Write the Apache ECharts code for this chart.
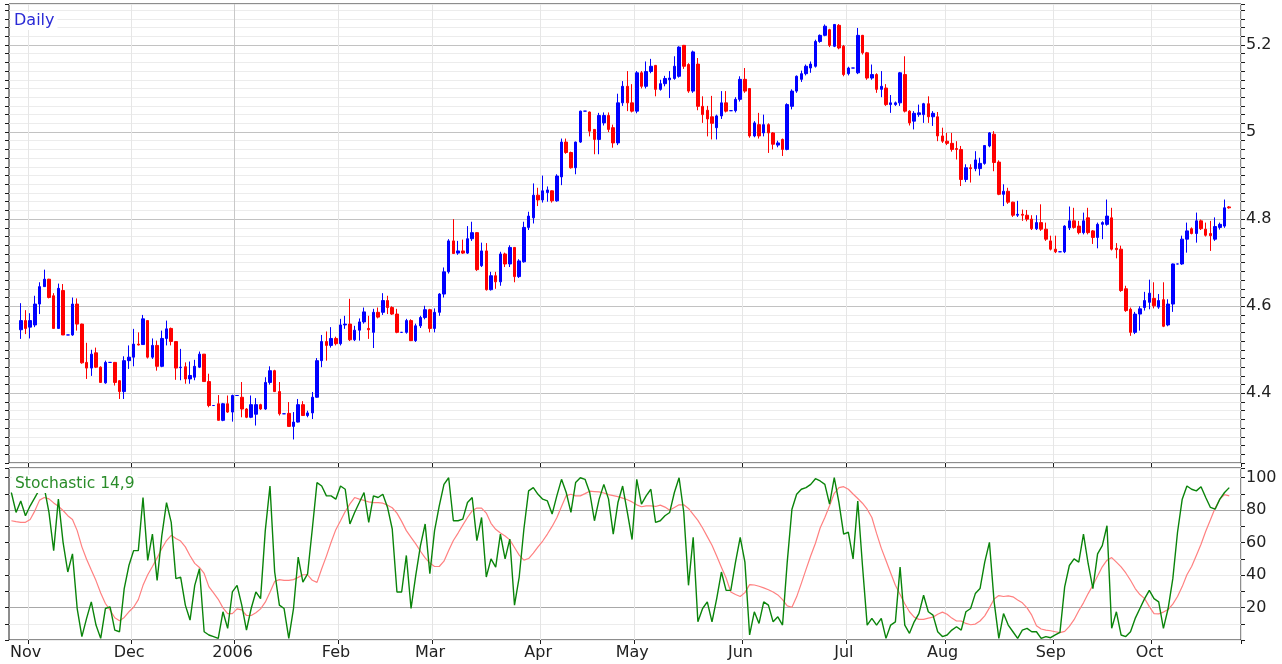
<!DOCTYPE html>
<html><head><meta charset="utf-8">
<script src="https://cdn.jsdelivr.net/npm/echarts/dist/echarts.min.js"></script>
<style>html,body{margin:0;padding:0;background:#fff}#c{width:1282px;height:664px}</style>
</head><body><div id="c"></div><script>
// ---- categories: weekdays 26 Oct 2005 .. 26 Oct 2006 ----
const categories = [];
(function () {
  const d = new Date(Date.UTC(2005, 9, 26));
  const end = Date.UTC(2006, 9, 26);
  while (d.getTime() <= end) {
    const wd = d.getUTCDay();
    if (wd !== 0 && wd !== 6) categories.push(d.toISOString().slice(0, 10));
    d.setUTCDate(d.getUTCDate() + 1);
  }
})();
const monthNames = ['Jan','Feb','Mar','Apr','May','Jun','Jul','Aug','Sep','Oct','Nov','Dec'];

// ---- price series (daily candles) ----
const opens = [null,null,4.546,4.567,4.552,4.557,4.605,4.645,4.662,4.624,
4.549,4.636,4.534,4.534,4.605,4.559,4.471,4.458,4.493,4.460,
4.424,4.471,4.471,4.429,4.404,4.475,4.483,4.513,4.512,4.567,
4.483,4.510,4.462,4.526,4.549,4.519,4.459,4.461,4.433,4.437,
4.460,4.490,4.427,4.372,4.376,4.338,4.376,4.357,4.395,4.391,
4.364,4.345,4.352,4.374,4.364,4.425,4.452,4.404,4.353,4.354,
4.324,4.334,4.374,4.349,4.355,4.391,4.475,4.519,4.510,4.526,
4.514,4.557,4.559,4.523,4.545,4.564,4.549,4.540,4.586,4.586,
4.613,4.597,4.582,4.540,4.540,4.567,4.521,4.555,4.574,4.592,
4.549,4.586,4.628,4.679,4.750,4.722,4.727,4.722,4.755,4.769,
4.693,4.727,4.638,4.670,4.656,4.720,4.697,4.735,4.668,4.702,
4.781,4.803,4.855,4.844,4.861,4.865,4.842,4.897,4.977,4.953,
4.918,4.977,5.048,5.046,5.006,4.983,5.021,5.038,5.010,4.975,
5.067,5.105,5.067,5.048,5.136,5.105,5.139,5.153,5.098,5.111,
5.120,5.123,5.128,5.199,5.155,5.094,5.156,5.059,5.050,5.035,
5.010,5.037,5.067,5.049,5.049,5.075,5.121,5.100,4.991,5.017,
4.998,5.017,4.998,4.970,4.983,4.960,5.059,5.094,5.121,5.134,
5.147,5.151,5.208,5.222,5.235,5.197,5.245,5.197,5.134,5.147,
5.136,5.222,5.182,5.124,5.132,5.098,5.101,5.063,5.063,5.067,
5.132,5.048,5.025,5.040,5.040,5.065,5.035,5.035,4.991,4.979,
4.974,4.962,4.960,4.891,4.918,4.916,4.916,4.928,4.968,4.995,
4.931,4.857,4.864,4.839,4.809,4.811,4.809,4.800,4.778,4.792,
4.777,4.750,4.731,4.725,4.725,4.780,4.796,4.784,4.769,4.803,
4.773,4.758,4.788,4.788,4.803,4.733,4.731,4.640,4.593,4.540,
4.582,4.597,4.609,4.618,4.598,4.615,4.557,4.605,4.697,4.697,
4.754,4.778,4.767,4.796,4.777,4.767,4.754,4.781,4.784,4.828,
null,null];
const closes = [null,null,4.567,4.549,4.567,4.605,4.645,4.662,4.620,4.549,
4.641,4.534,4.534,4.605,4.559,4.470,4.458,4.490,4.460,4.425,
4.471,4.471,4.425,4.404,4.475,4.483,4.513,4.511,4.571,4.483,
4.510,4.462,4.526,4.548,4.519,4.458,4.460,4.433,4.441,4.462,
4.490,4.427,4.372,4.372,4.338,4.376,4.357,4.395,4.395,4.364,
4.345,4.374,4.374,4.364,4.425,4.452,4.404,4.353,4.353,4.324,
4.334,4.374,4.349,4.355,4.391,4.475,4.519,4.510,4.526,4.514,
4.557,4.559,4.523,4.545,4.564,4.587,4.546,4.586,4.575,4.613,
4.597,4.582,4.540,4.540,4.567,4.521,4.555,4.574,4.592,4.549,
4.586,4.628,4.679,4.750,4.721,4.727,4.722,4.755,4.769,4.684,
4.727,4.638,4.670,4.656,4.720,4.697,4.735,4.668,4.704,4.781,
4.807,4.855,4.844,4.865,4.867,4.842,4.899,4.977,4.953,4.918,
4.977,5.048,5.048,5.002,4.983,5.038,5.038,5.006,4.975,5.067,
5.105,5.067,5.048,5.136,5.105,5.139,5.151,5.098,5.111,5.123,
5.124,5.151,5.195,5.151,5.094,5.184,5.059,5.040,5.030,5.020,
5.037,5.067,5.048,5.049,5.075,5.121,5.094,4.991,5.021,4.991,
5.017,4.998,4.972,4.975,4.960,5.063,5.094,5.128,5.134,5.151,
5.156,5.208,5.222,5.243,5.199,5.247,5.193,5.132,5.147,5.147,
5.222,5.182,5.124,5.132,5.098,5.105,5.063,5.067,5.067,5.136,
5.048,5.021,5.043,5.044,5.065,5.035,5.043,4.991,4.979,4.974,
4.960,4.960,4.891,4.918,4.916,4.936,4.928,4.969,4.998,4.930,
4.857,4.864,4.839,4.809,4.811,4.809,4.800,4.778,4.792,4.777,
4.754,4.731,4.725,4.725,4.784,4.796,4.781,4.769,4.796,4.769,
4.758,4.788,4.792,4.807,4.731,4.730,4.636,4.590,4.540,4.582,
4.594,4.613,4.630,4.601,4.613,4.554,4.605,4.697,4.697,4.754,
4.773,4.767,4.796,4.778,4.763,4.762,4.783,4.788,4.826,4.826,
null,null];
const lows = [null,null,4.525,4.536,4.526,4.552,4.582,4.645,4.618,4.549,
4.549,4.534,4.534,4.532,4.544,4.468,4.433,4.440,4.458,4.425,
4.422,4.471,4.418,4.387,4.387,4.456,4.462,4.510,4.511,4.480,
4.479,4.452,4.460,4.510,4.510,4.431,4.430,4.422,4.422,4.430,
4.458,4.427,4.368,4.372,4.338,4.336,4.355,4.335,4.395,4.345,
4.343,4.343,4.326,4.362,4.362,4.420,4.403,4.349,4.353,4.324,
4.294,4.333,4.348,4.345,4.341,4.390,4.460,4.475,4.505,4.510,
4.510,4.548,4.520,4.520,4.521,4.560,4.525,4.504,4.572,4.580,
4.582,4.580,4.538,4.540,4.537,4.520,4.518,4.550,4.570,4.540,
4.540,4.578,4.620,4.675,4.720,4.718,4.720,4.720,4.750,4.681,
4.690,4.636,4.636,4.640,4.647,4.690,4.690,4.655,4.665,4.700,
4.775,4.790,4.830,4.838,4.840,4.838,4.840,4.878,4.950,4.916,
4.903,4.975,5.048,4.990,4.949,4.949,5.015,5.000,4.964,4.970,
5.060,5.048,5.045,5.043,5.100,5.100,5.135,5.082,5.095,5.105,
5.078,5.120,5.125,5.145,5.090,5.090,5.050,5.021,4.990,4.983,
4.983,5.030,5.045,5.049,5.045,5.070,5.090,4.987,4.988,4.985,
4.990,4.952,4.960,4.965,4.945,4.958,5.052,5.090,5.115,5.130,
5.136,5.148,5.205,5.220,5.195,5.195,5.190,5.128,5.130,5.147,
5.133,5.178,5.120,5.120,5.090,5.080,5.060,5.044,5.060,5.060,
5.045,5.015,5.006,5.035,5.021,5.021,5.014,4.979,4.975,4.970,
4.955,4.937,4.876,4.885,4.884,4.910,4.900,4.925,4.965,4.910,
4.855,4.830,4.835,4.805,4.805,4.796,4.795,4.775,4.775,4.773,
4.750,4.728,4.722,4.725,4.722,4.775,4.778,4.765,4.765,4.765,
4.743,4.733,4.754,4.785,4.728,4.710,4.633,4.587,4.532,4.536,
4.544,4.590,4.593,4.595,4.594,4.552,4.554,4.587,4.697,4.695,
4.723,4.765,4.746,4.775,4.760,4.727,4.750,4.776,4.780,4.824,
null,null];
const highs = [null,null,4.607,4.591,4.584,4.624,4.655,4.684,4.663,4.630,
4.652,4.651,4.534,4.620,4.618,4.560,4.516,4.500,4.505,4.462,
4.475,4.471,4.472,4.430,4.485,4.510,4.548,4.540,4.580,4.567,
4.526,4.521,4.544,4.567,4.551,4.520,4.502,4.471,4.473,4.477,
4.496,4.490,4.445,4.372,4.396,4.378,4.395,4.397,4.395,4.426,
4.366,4.395,4.389,4.376,4.437,4.462,4.454,4.426,4.353,4.380,
4.357,4.387,4.382,4.360,4.403,4.481,4.534,4.542,4.552,4.530,
4.571,4.578,4.617,4.555,4.572,4.597,4.578,4.594,4.597,4.630,
4.624,4.600,4.594,4.540,4.571,4.570,4.560,4.578,4.601,4.594,
4.595,4.630,4.689,4.754,4.800,4.750,4.753,4.784,4.794,4.770,
4.746,4.745,4.679,4.679,4.725,4.723,4.740,4.736,4.708,4.794,
4.817,4.882,4.872,4.900,4.875,4.866,4.903,4.985,4.985,4.955,
4.978,5.049,5.048,5.047,5.006,5.044,5.045,5.045,5.017,5.088,
5.117,5.140,5.110,5.140,5.140,5.162,5.168,5.154,5.120,5.129,
5.140,5.174,5.197,5.200,5.158,5.187,5.170,5.082,5.060,5.083,
5.040,5.094,5.094,5.049,5.080,5.128,5.147,5.100,5.025,5.044,
5.040,5.020,5.000,4.980,4.985,5.066,5.098,5.130,5.141,5.155,
5.162,5.212,5.224,5.247,5.237,5.248,5.248,5.200,5.150,5.147,
5.239,5.223,5.184,5.155,5.135,5.140,5.110,5.085,5.070,5.138,
5.174,5.050,5.048,5.063,5.067,5.082,5.048,5.046,5.010,4.998,
4.998,4.979,4.968,4.926,4.926,4.956,4.941,4.970,5.000,5.002,
4.935,4.880,4.872,4.840,4.842,4.822,4.821,4.809,4.809,4.834,
4.792,4.762,4.762,4.725,4.786,4.829,4.826,4.796,4.815,4.826,
4.775,4.792,4.795,4.845,4.826,4.745,4.739,4.647,4.597,4.587,
4.600,4.633,4.661,4.655,4.628,4.655,4.616,4.698,4.697,4.762,
4.792,4.781,4.815,4.799,4.792,4.796,4.804,4.792,4.845,4.830,
null,null];

// ---- stochastic 14,9 ----
const stochK = [90.9,78.6,85.7,76.6,82.7,87.8,92.9,93.9,78.6,55.1,
86.8,60.2,41.9,53.1,19.4,2.1,13.3,23.5,9.2,1.0,
19.4,20.4,6.1,5.1,31.7,45.9,55.1,55.1,87.8,49.0,
65.3,36.7,64.3,84.7,72.5,37.8,38.8,21.5,12.3,33.7,
43.9,5.1,3.1,2.1,1.0,17.4,7.2,29.6,33.7,21.5,
6.1,19.4,29.6,25.5,67.4,94.9,41.9,21.5,19.4,1.0,
19.4,51.1,35.7,40.8,68.4,97.0,94.9,88.8,88.8,86.8,
94.9,92.9,71.5,78.6,84.7,90.9,72.5,88.8,87.8,89.8,
81.7,68.4,29.6,29.6,52.1,19.4,39.8,58.2,71.5,40.8,
67.4,82.7,95.9,100,73.5,73.5,74.5,84.7,87.8,61.2,
75.5,38.8,50.0,44.9,65.3,50.0,62.2,21.5,38.8,68.4,
91.9,93.9,89.8,86.8,85.7,77.6,88.8,99.0,90.9,78.6,
97.0,100,99.0,90.9,73.5,86.8,95.9,86.8,65.3,84.7,
94.9,78.6,61.9,99.0,83.7,88.8,92.9,72.5,73.5,76.6,
78.6,90.9,100,78.6,33.7,63.3,11.2,19.4,23.5,11.2,
25.5,41.9,30.6,30.6,48.0,63.3,48.0,3.1,17.4,10.2,
23.5,21.5,11.2,14.3,9.2,48.0,80.6,89.8,92.9,93.9,
95.9,99.4,98.0,95.9,83.7,100,84.7,65.3,66.4,50.0,
85.7,45.9,9.2,13.3,9.2,13.3,1.0,9.2,11.2,44.9,
9.2,4.1,11.2,16.3,27.6,17.4,15.3,5.1,2.1,3.1,
6.1,8.2,6.1,17.4,19.4,28.6,31.7,48.0,60.2,23.5,
1.0,16.3,9.2,5.1,1.0,6.1,7.2,5.1,5.1,1.0,
2.1,1.4,3.1,4.7,32.7,45.9,50.0,48.0,65.3,47.0,
31.7,53.1,58.2,70.4,7.2,17.4,3.1,2.1,5.1,13.3,
19.4,25.5,30.6,25.5,23.5,7.2,19.4,37.8,66.4,86.8,
94.9,92.9,91.9,94.5,87.8,81.7,80.6,86.8,90.9,93.9,
null,null];
const stochD = [73.5,72.9,72.5,72.5,74.3,79.6,86.2,87.8,87.0,84.5,
82.5,79.8,76.6,74.3,67.4,57.4,49.8,43.1,36.6,29.0,
22.5,18.4,13.7,11.9,13.9,17.4,20.2,24.9,33.7,40.2,
45.3,50.6,56.4,61.3,64.5,62.5,61.0,57.4,51.9,47.2,
44.7,41.0,32.9,29.0,25.1,19.8,16.3,16.3,19.2,18.6,
15.1,15.1,16.8,19.2,23.3,29.4,36.1,37.2,36.8,36.8,
37.2,38.6,40.2,40.2,36.8,35.5,43.9,51.7,60.2,68.0,
73.5,79.2,83.9,87.8,86.8,86.0,85.1,84.7,84.7,84.3,
83.1,81.5,78.2,73.1,67.4,63.3,59.2,54.7,50.6,47.4,
45.3,45.3,48.6,55.1,61.3,65.9,70.8,75.5,79.6,81.3,
81.3,78.2,71.9,68.2,65.9,64.1,61.7,57.0,52.3,49.2,
50.2,53.5,57.4,61.0,65.3,70.0,75.3,82.3,89.0,89.8,
88.8,88.8,90.2,91.7,91.5,91.3,90.6,89.6,89.0,88.4,
87.4,86.4,85.1,83.3,82.1,82.7,82.7,82.3,83.1,81.9,
80.0,81.7,83.3,83.3,81.1,77.4,73.7,69.0,63.7,58.4,
51.7,44.9,38.2,29.6,28.0,26.8,29.2,34.1,33.9,33.1,
32.1,31.0,29.6,27.8,24.9,21.0,20.2,26.6,34.9,43.5,
51.9,59.6,69.0,75.5,82.7,90.4,93.9,94.5,92.9,90.0,
87.2,84.3,80.6,75.5,65.7,56.6,49.0,41.3,33.7,28.0,
22.3,17.4,14.1,12.7,12.7,13.5,14.1,15.9,17.2,15.9,
13.5,11.7,11.7,10.2,9.4,9.8,11.7,14.9,19.8,25.3,
27.4,26.8,27.2,26.6,24.7,22.9,19.8,15.3,8.8,6.8,
6.1,5.7,5.1,4.5,5.3,8.4,12.5,18.0,22.9,28.6,
33.7,39.4,45.1,49.2,50.8,48.0,45.1,41.3,36.8,31.7,
28.0,25.5,20.6,16.3,16.1,17.2,18.8,22.1,26.8,32.9,
40.2,45.3,52.1,59.0,67.0,74.1,81.3,86.8,89.6,88.8,
null,null];

// ---- tick labels ----
const priceLabels = [4.4, 4.6, 4.8, 5.0, 5.2];
const stochLabels = [20, 40, 60, 80, 100];

// ---- build ----
const candleData = categories.map((c, i) =>
  opens[i] == null ? '-' : [opens[i], closes[i], lows[i], highs[i]]);
const isMonthStart = categories.map((c, i) => i > 0 && c.slice(0, 7) !== categories[i - 1].slice(0, 7));
const monthTick = (idx) => !!isMonthStart[idx];
const monthLabel = (v) => {
  const m = parseInt(v.slice(5, 7), 10) - 1;
  return m === 0 ? v.slice(0, 4) : monthNames[m];
};

const LIGHT = '#ececec', MAJOR = '#c2c2c2';
const priceGridColors = [LIGHT, LIGHT, LIGHT, LIGHT, LIGHT, LIGHT, LIGHT, LIGHT, MAJOR, LIGHT];
const stochGridColors = [LIGHT, LIGHT, '#a8a8a8', LIGHT, LIGHT, LIGHT, LIGHT, LIGHT, '#a8a8a8', LIGHT, LIGHT, LIGHT];
const upperV = ['#e6e6e6', '#e6e6e6', '#c8c8c8', '#e6e6e6', '#e6e6e6', '#e6e6e6', '#e6e6e6', '#e6e6e6', '#e6e6e6', '#e6e6e6', '#e6e6e6', '#e6e6e6', '#e6e6e6'];
const lowerV = '#e4e4e4';

const FONT = 'DejaVu Sans';
const axisCol = '#1a1a1a';

const chart = echarts.init(document.getElementById('c'));
chart.setOption({
  animation: false,
  backgroundColor: '#fff',
  textStyle: { fontFamily: FONT },
  grid: [
    { left: 9, right: 41, top: 4, height: 459, show: true, borderColor: axisCol, borderWidth: 1, backgroundColor: '#fff' },
    { left: 9, right: 41, top: 468, height: 172, show: true, borderColor: axisCol, borderWidth: 1, backgroundColor: '#fff' }
  ],
  xAxis: [
    { type: 'category', gridIndex: 0, data: categories, boundaryGap: true,
      axisLine: { show: false },
      axisTick: { show: true, interval: monthTick, length: 4, lineStyle: { color: axisCol } },
      axisLabel: { show: false },
      splitLine: { show: true, interval: monthTick, lineStyle: { color: upperV, width: 1 } } },
    { type: 'category', gridIndex: 1, data: categories, boundaryGap: true,
      axisLine: { show: false },
      axisTick: { show: true, interval: monthTick, length: 4, lineStyle: { color: axisCol } },
      axisLabel: { show: true, interval: monthTick, formatter: monthLabel, fontSize: 16, color: '#222',
                   fontFamily: FONT, margin: 5, padding: [0, 9, 0, 0] },
      splitLine: { show: true, interval: monthTick, lineStyle: { color: lowerV, width: 1 } } }
  ],
  yAxis: [
    { type: 'value', gridIndex: 0, position: 'right', min: 4.24, max: 5.294, interval: 0.02,
      axisLine: { show: false },
      axisTick: { show: true, length: 4, lineStyle: { color: axisCol } },
      axisLabel: { fontSize: 16, color: '#222', fontFamily: FONT, margin: 5,
        formatter: (v) => {
          const hit = priceLabels.find(p => Math.abs(p - v) < 1e-6);
          return hit === undefined ? '' : String(hit);
        } },
      splitLine: { show: true, lineStyle: { color: priceGridColors, width: 1 } } },
    { type: 'value', gridIndex: 0, position: 'left', min: 4.24, max: 5.294, interval: 0.02,
      axisLine: { show: false },
      axisTick: { show: true, length: 4, lineStyle: { color: axisCol } },
      axisLabel: { show: false }, splitLine: { show: false } },
    { type: 'value', gridIndex: 1, position: 'right', min: 0, max: 106, interval: 10,
      axisLine: { show: false },
      axisTick: { show: true, length: 4, lineStyle: { color: axisCol } },
      axisLabel: { fontSize: 16, color: '#222', fontFamily: FONT, margin: 5,
        formatter: (v) => stochLabels.indexOf(v) >= 0 ? String(v) : '' },
      splitLine: { show: true, lineStyle: { color: stochGridColors, width: 1 } } },
    { type: 'value', gridIndex: 1, position: 'left', min: 0, max: 106, interval: 10,
      axisLine: { show: false },
      axisTick: { show: true, length: 4, lineStyle: { color: axisCol } },
      axisLabel: { show: false }, splitLine: { show: false } }
  ],
  series: [
    { type: 'candlestick', xAxisIndex: 0, yAxisIndex: 0, data: candleData, barWidth: 3,
      itemStyle: { color: '#0000ff', color0: '#ff0000', borderColor: '#0000ff', borderColor0: '#ff0000',
                   borderColorDoji: '#0000ff', borderWidth: 1 } },
    { type: 'line', xAxisIndex: 1, yAxisIndex: 2, data: stochD, symbol: 'none', showSymbol: false,
      lineStyle: { color: '#ff8080', width: 1.2 }, z: 3 },
    { type: 'line', xAxisIndex: 1, yAxisIndex: 2, data: stochK, symbol: 'none', showSymbol: false,
      lineStyle: { color: '#0a840a', width: 1.4 }, z: 4 }
  ],
  graphic: [
    { type: 'text', left: 11, top: 12, z: 100,
      style: { text: 'Daily', fontSize: 16, fontFamily: FONT, fill: '#2b2bd6', backgroundColor: '#fff', padding: [1, 3, 1, 3] } },
    { type: 'text', left: 12, top: 475, z: 100,
      style: { text: 'Stochastic 14,9', fontSize: 15.5, fontFamily: FONT, fill: '#2a8c2a', backgroundColor: '#fff', padding: [1, 3, 1, 3] } }
  ]
});
</script></body></html>
